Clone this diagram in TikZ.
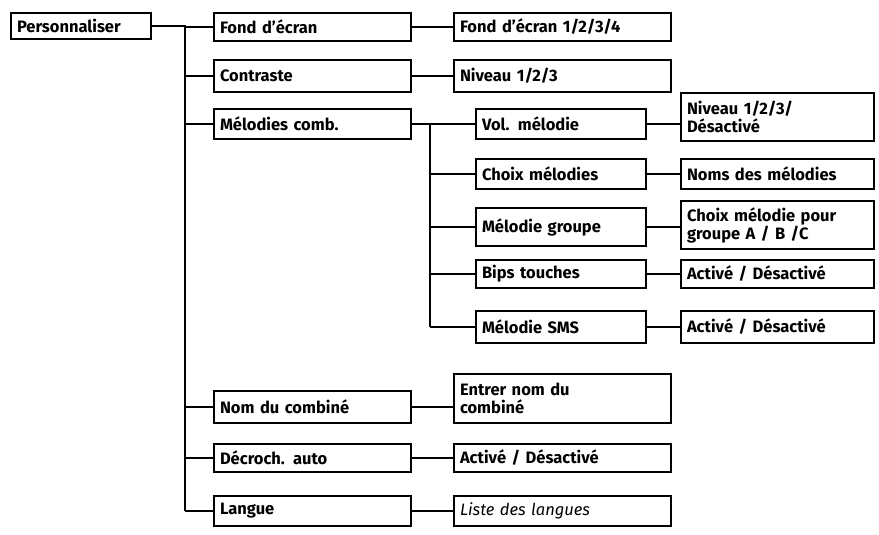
\documentclass[tikz,border=0pt]{standalone}
\usepackage{fontspec}
\setmainfont{Fira Sans}
\begin{document}
\begin{tikzpicture}[x=1pt,y=-1pt,
  bx/.style={draw,line width=2pt,anchor=north west,inner sep=0pt,align=left,font=\bfseries\fontsize{16.5}{18}\selectfont},
  ln/.style={line width=1.2pt}]
\useasboundingbox (0,0) rectangle (879,535);
\newcommand{\bb}[6]{\node[bx,minimum width=#4-#2,minimum height=#5-#3,text width=#4-#2-12pt] (#1) at (#2,#3) {\hspace*{0pt}#6};}
\bb{P}{10}{12}{150}{38}{Personnaliser}
\bb{A}{213}{12}{410}{40}{Fond d'écran}
\bb{B}{213}{59}{410}{91}{Contraste}
\bb{C}{213}{108}{410}{138}{Mélodies comb.}
\bb{D}{213}{390}{410}{422}{Nom du combiné}
\bb{E}{213}{443}{410}{471}{Décroch. auto}
\bb{F}{213}{495}{410}{525}{Langue}
\bb{A1}{453}{12}{670}{40}{Fond d'écran 1/2/3/4}
\bb{B1}{453}{59}{670}{91}{Niveau 1/2/3}
\bb{D1}{453}{373}{670}{422}{Entrer nom du\\combiné}
\bb{E1}{453}{443}{670}{471}{Activé / Désactivé}
\bb{F1}{453}{495}{670}{525}{\mdseries\itshape Liste des langues}
\bb{C1}{475}{108}{645}{138}{Vol. mélodie}
\bb{C2}{475}{158}{645}{188}{Choix mélodies}
\bb{C3}{475}{207}{645}{245}{Mélodie groupe}
\bb{C4}{475}{259}{645}{287}{Bips touches}
\bb{C5}{475}{310}{645}{342}{Mélodie SMS}
\bb{G1}{680}{92}{873}{140}{Niveau 1/2/3/\\Désactivé}
\bb{G2}{680}{158}{873}{188}{Noms des mélodies}
\bb{G3}{680}{200}{873}{248}{Choix mélodie pour\\groupe A / B /C}
\bb{G4}{680}{259}{873}{287}{Activé / Désactivé}
\bb{G5}{680}{310}{873}{342}{Activé / Désactivé}
\coordinate (t) at (185,0);
\coordinate (s) at (430,0);
\draw[ln] (P.east) -- (P.east -| t) -- (F.west -| t);
\foreach \n in {A,B,C,D,E,F} \draw[ln] (\n.west -| t) -- (\n.west);
\draw[ln] (A.east) -- (A1.west |- A.east);
\draw[ln] (B.east) -- (B1.west |- B.east);
\draw[ln] (D.east) -- (D1.west |- D.east);
\draw[ln] (E.east) -- (E1.west);
\draw[ln] (F.east) -- (F1.west);
\draw[ln] (C.east) -- (C1.west |- C.east);
\draw[ln] (C.east -| s) -- (C5.west -| s);
\foreach \n in {2,3,4,5} \draw[ln] (C\n.west -| s) -- (C\n.west);
\draw[ln] (C1.east) -- (G1.west |- C1.east);
\foreach \n in {2,3,4,5} \draw[ln] (C\n.east) -- (G\n.west |- C\n.east);
\end{tikzpicture}
\end{document}
